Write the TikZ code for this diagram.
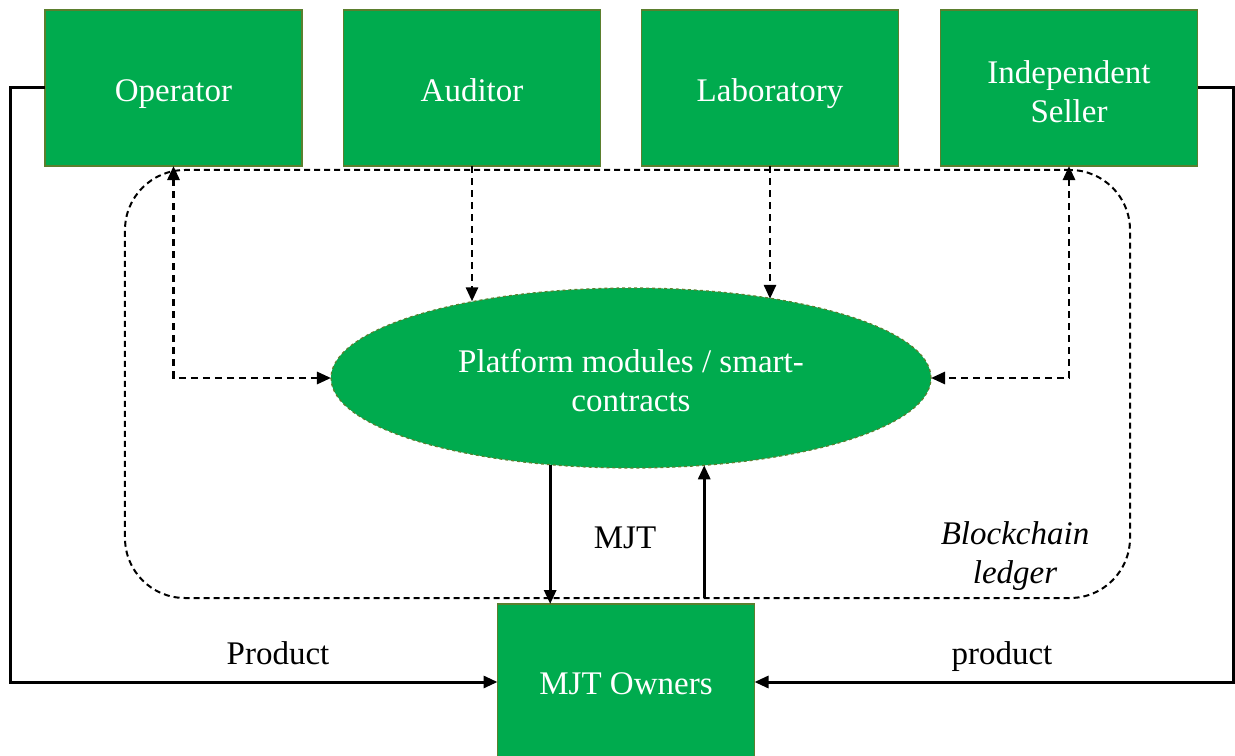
\documentclass[tikz,border=0pt]{standalone}
\usepackage{fontspec}
\setmainfont{Liberation Serif}
\usetikzlibrary{arrows.meta,shapes.geometric,calc}
\definecolor{boxgreen}{HTML}{00AB4E}
\definecolor{boxedge}{HTML}{5B7F2E}
\tikzset{
  actor/.style={draw=boxedge, line width=1.8bp, fill=boxgreen, text=white,
    minimum width=257bp, minimum height=156bp, inner sep=0pt, outer sep=0pt,
    align=center, font=\fontsize{33bp}{39bp}\selectfont},
  module/.style={ellipse, draw=boxedge, dashed, line width=1.2bp, fill=boxgreen, text=white,
    minimum width=600bp, minimum height=180bp, inner sep=0pt, outer sep=0pt,
    align=center, font=\fontsize{33bp}{39bp}\selectfont},
  ledgerbox/.style={draw=black, line width=2bp, dash pattern=on 6bp off 4bp,
    rounded corners=60bp, minimum width=1005bp, minimum height=428bp, inner sep=0pt, outer sep=0pt},
  tip/.style={-{Triangle[length=14bp,width=12bp]}},
  bitip/.style={{Triangle[length=14bp,width=12bp]}-{Triangle[length=14bp,width=12bp]}},
  flowline/.style={draw=black, line width=3bp},
  dasharrow/.style={draw=black, line width=2.8bp, dash pattern=on 7bp off 5bp},
  lbl/.style={text=black, align=center, font=\fontsize{33bp}{39bp}\selectfont}
}
\begin{document}
\begin{tikzpicture}[x=1bp,y=-1bp]
\clip (0,0) rectangle (1235,756);
\fill[white] (0,0) rectangle (1235,756);
% ledger
\node[ledgerbox] (ledger) at (627.5,384) {};
% actors
\node[actor, text height=35bp, text depth=7bp] (op) at (173.5,88) {Operator};
\node[actor, text height=35bp, text depth=7bp] (au) at (472,88) {Auditor};
\node[actor, text height=35bp, text depth=7bp] (lab) at (770,88) {Laboratory};
\node[actor] (is) at (1069,88) {\rule{0pt}{31bp}Independent\\Seller};
\node[actor, text height=31bp, text depth=7bp] (own) at (626,682) {MJT Owners};
% module
\node[module] (ell) at (631,378) {\rule{0pt}{29bp}Platform modules / smart-\\contracts};
% dashed arrows
\coordinate (opc) at (173.5,378);
\coordinate (isc) at (1069,378);
\draw[dasharrow, bitip] (op.south) -- (opc) -- (ell.west);
\draw[dasharrow, bitip] (is.south) -- (isc) -- (ell.east);
\draw[dasharrow, tip] (au.south) -- (au.south |- ell.154.5);
\draw[dasharrow, tip] (lab.south) -- (lab.south |- ell.29.9);
% MJT arrows
\draw[flowline, tip] (ell.227.3) -- (ell.227.3 |- own.north);
\draw[flowline, tip] (ledger.south -| ell.-50.5) -- (ell.-50.5);
% product lines
\coordinate (lt) at (10,88);
\coordinate (lb) at (10,682);
\coordinate (rt) at (1233,88);
\coordinate (rb) at (1233,682);
\draw[flowline, tip] (op.west) -- (lt) -- (lb) -- (own.west);
\draw[flowline, tip] (is.east) -- (rt) -- (rb) -- (own.east);
% labels
\node[lbl, anchor=base] (mjt) at (625,548) {MJT};
\node[lbl] (bl) at (1015,556) {\itshape Blockchain\\\itshape ledger};
\node[lbl, anchor=base] (pl) at (278,664) {Product};
\node[lbl, anchor=base] (pr) at (1002,664) {product};
\end{tikzpicture}
\end{document}
